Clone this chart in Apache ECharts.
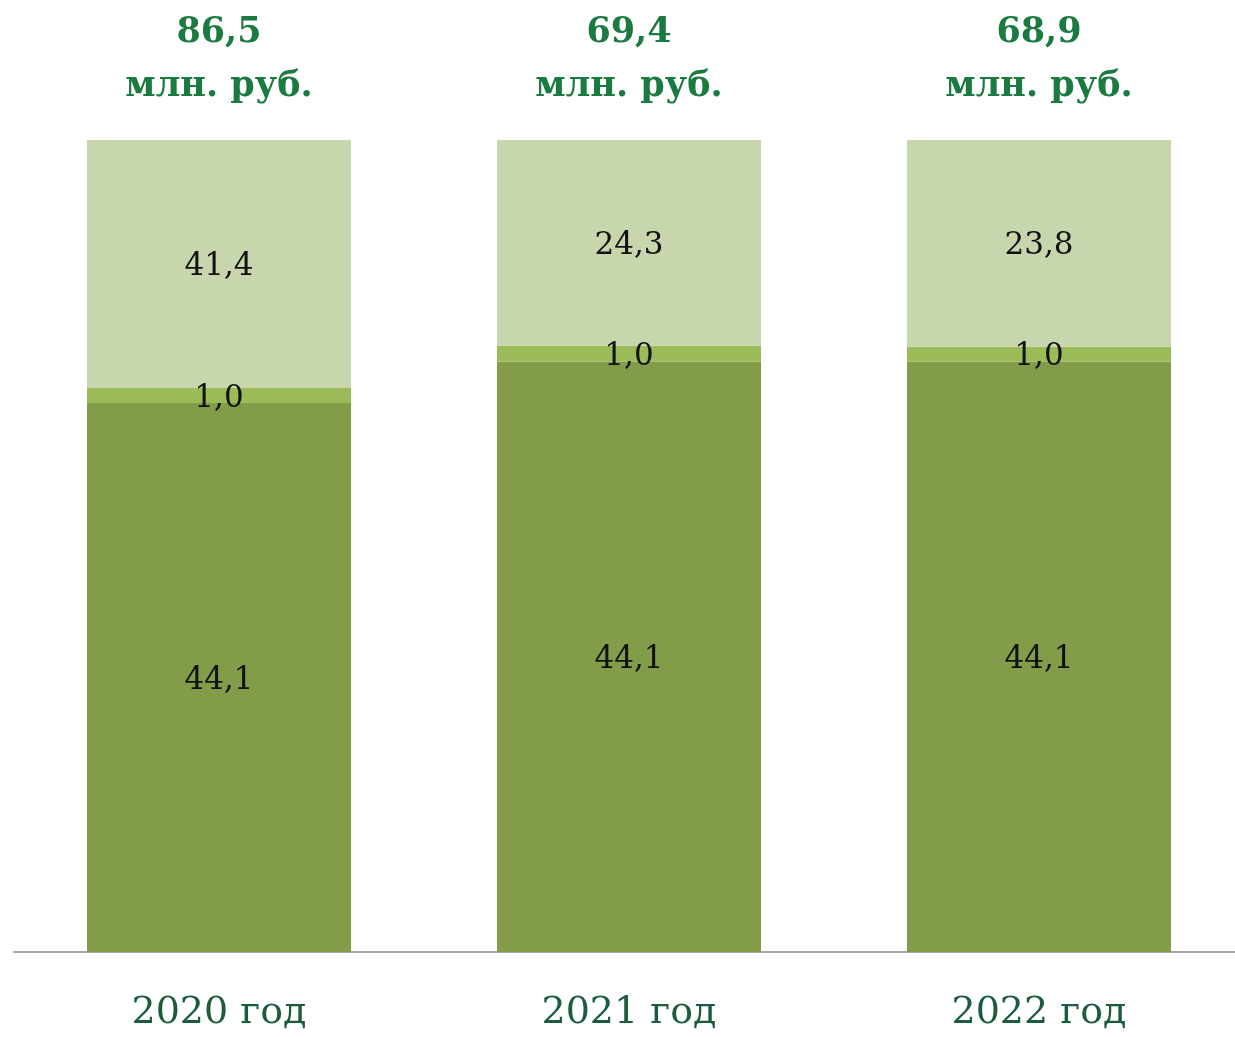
<!DOCTYPE html>
<html><head><meta charset="utf-8">
<script src="https://cdn.jsdelivr.net/npm/echarts@6/dist/echarts.min.js"></script>
<style>html,body{margin:0;padding:0;background:#fff;overflow:hidden}#c{width:1245px;height:1037px}</style>
</head><body><div id="c"></div>
<script>
// Categories
const categories = ['2020 год', '2021 год', '2022 год'];
// Values shown in labels (млн. руб.)
const valuesBottom = [44.1, 44.1, 44.1];
const valuesMiddle = [1.0, 1.0, 1.0];
const valuesTop = [41.4, 24.3, 23.8];
const totals = [86.5, 69.4, 68.9];
// Segment heights as drawn in the picture (share of full bar, %)
const shareBottom = [67.6, 72.7, 72.7];
const shareMiddle = [1.85, 1.95, 1.85];
const shareTop = [30.55, 25.35, 25.45];

const fmt = v => v.toFixed(1).replace('.', ',');
const labelFont = {fontFamily: 'DejaVu Serif', fontSize: 31, color: '#111'};

function seg(name, shares, vals, color) {
  return {
    name, type: 'bar', stack: 'a', barWidth: '64.4%',
    data: shares.map((s, i) => ({value: s, raw: vals[i]})),
    itemStyle: {color},
    label: Object.assign({show: true, position: 'inside', offset: [0, 3],
      formatter: p => fmt(p.data.raw)}, labelFont),
    emphasis: {disabled: true}, silent: true
  };
}

const chart = echarts.init(document.getElementById('c'), null, {renderer: 'canvas'});
chart.setOption({
  animation: false,
  grid: {left: 14, right: 1, top: 140, bottom: 85, containLabel: false},
  xAxis: [{
    type: 'category', data: categories, position: 'bottom',
    axisLine: {lineStyle: {color: '#a6a6a6', width: 2}},
    axisTick: {show: false},
    axisLabel: {fontFamily: 'DejaVu Serif', fontSize: 38, color: '#1a5c3c', margin: 42}
  }, {
    type: 'category', data: totals.map(fmt), position: 'top',
    axisLine: {show: false}, axisTick: {show: false},
    axisLabel: {
      margin: 26,
      formatter: v => '{a|' + v + '}\n{b|млн. руб.}',
      rich: {
        a: {fontFamily: 'DejaVu Serif', fontWeight: 'bold', fontSize: 35, color: '#1a7a40', lineHeight: 54},
        b: {fontFamily: 'DejaVu Serif', fontWeight: 'bold', fontSize: 35, color: '#1a7a40', lineHeight: 54}
      }
    }
  }],
  yAxis: {type: 'value', min: 0, max: 100, show: false, splitLine: {show: false}},
  series: [
    seg('Нижний', shareBottom, valuesBottom, '#839c49'),
    seg('Средний', shareMiddle, valuesMiddle, '#9bbb59'),
    seg('Верхний', shareTop, valuesTop, '#c7d6ad')
  ]
});
</script></body></html>
